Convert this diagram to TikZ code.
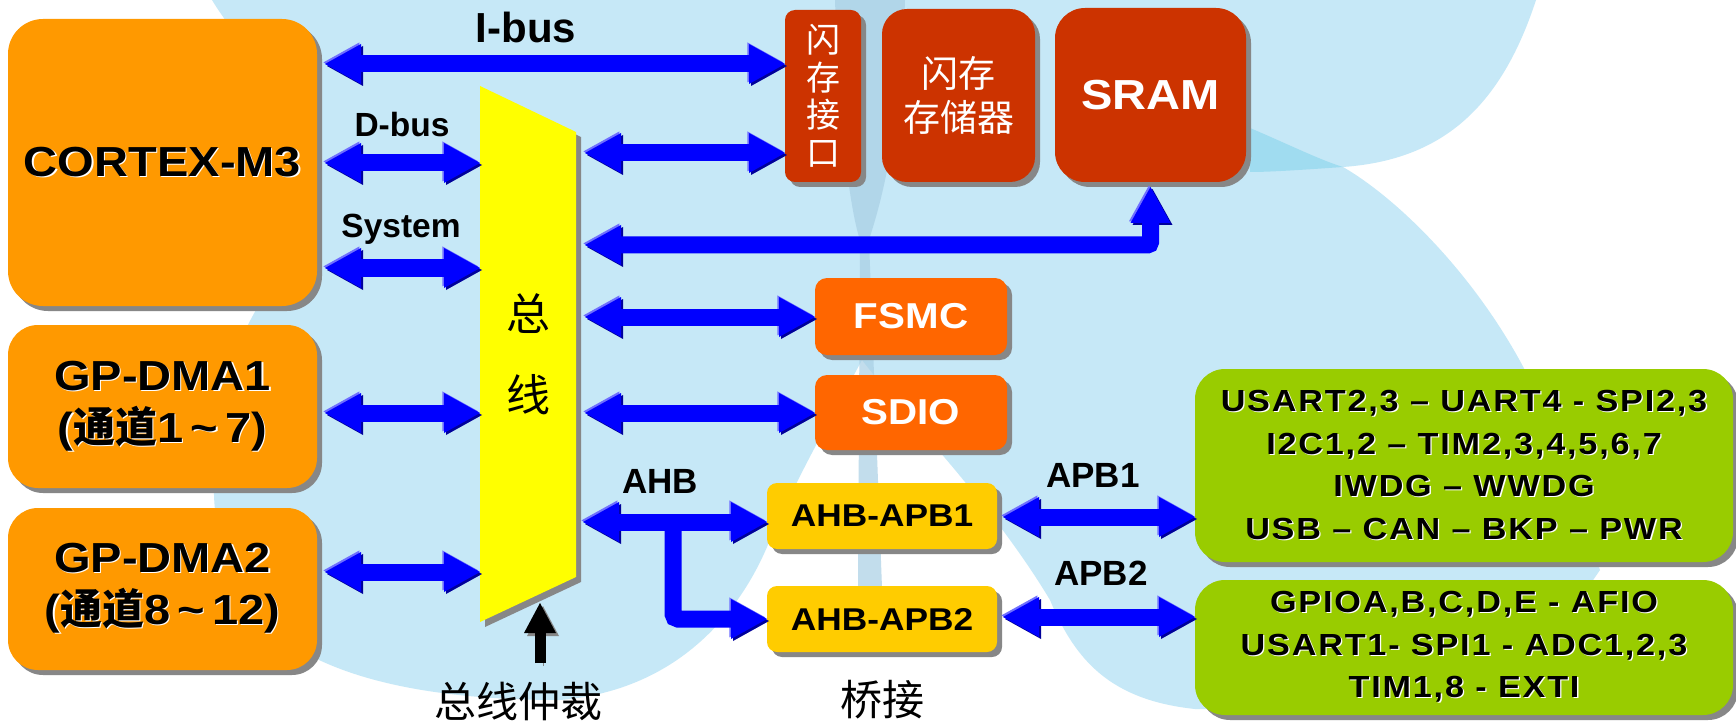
\documentclass[tikz,border=0pt]{standalone}
\usepackage{fontspec}
\setmainfont{Liberation Sans}
\newfontfamily\bx[FakeStretch=1.12]{Liberation Sans}
\newfontfamily\gx[FakeStretch=1.12,LetterSpace=6]{Liberation Sans}
\newfontfamily\cjk{Noto Sans CJK SC}
\usetikzlibrary{arrows.meta,shadows}
\definecolor{bgblue}{HTML}{C6E8F7}
\definecolor{bgdark}{HTML}{A0DCF0}
\definecolor{stemc}{HTML}{A9CFE4}
\definecolor{orng}{HTML}{FF9900}
\definecolor{brick}{HTML}{CC3300}
\definecolor{fsmcc}{HTML}{FF6600}
\definecolor{gold}{HTML}{FFCC00}
\definecolor{lime}{HTML}{99CC00}
\definecolor{busy}{HTML}{FFFF00}
\definecolor{shgray}{HTML}{878787}
\definecolor{bblue}{HTML}{0000FF}
\definecolor{blight}{HTML}{6F6FFF}
\definecolor{bdark}{HTML}{00009A}
\newcommand\fs[2]{\fontsize{#1}{#2}\selectfont}
\newcommand\shd[1]{\leavevmode\rlap{\kern1.3pt\raisebox{-1.3pt}{\color{white}#1}}#1}
\tikzset{
  blk/.style={rounded corners=#1, inner sep=0pt, outer sep=0pt, align=center,
    drop shadow={fill=shgray, opacity=1, shadow xshift=5pt, shadow yshift=-5pt}},
  bshape/.style={line width=17pt, draw=bblue, line join=miter,
    preaction={draw=bdark, transform canvas={shift={(2pt,-2pt)}}},
    preaction={draw=blight, transform canvas={shift={(-1.6pt,1.6pt)}}}},
  busarrow/.style={bshape, {Triangle[length=36pt,width=40pt,line width=0pt]}-{Triangle[length=36pt,width=40pt,line width=0pt]}},
  busone/.style={bshape, -{Triangle[length=36pt,width=40pt,line width=0pt]}},
  arbarrow/.style={line width=11pt, draw=black, -{Triangle[length=30pt,width=32pt,line width=0pt]},
    preaction={draw=shgray, transform canvas={shift={(3pt,-3pt)}}}},
  lbl/.style={anchor=base, inner sep=0pt, font=\bfseries\fs{#1}{40}},
  cjklbl/.style={inner sep=0pt, font=\cjk\fs{42}{48}}
}
\begin{document}
\begin{tikzpicture}[x=1pt,y=-1pt]
\useasboundingbox (0,0) rectangle (1736,727);
\fill[white] (0,0) rectangle (1736,727);
% background petals
\fill[bgblue] (212,0) -- (1536,0)
  .. controls (1500,110) and (1440,160) .. (1343,167)
  .. controls (1400,200) and (1480,280) .. (1530,380)
  -- (1600,570) -- (1500,715) -- (1195,709)
  .. controls (1110,700) and (1075,660) .. (1050,600)
  .. controls (990,500) and (900,410) .. (862,360)
  .. controls (835,410) and (790,490) .. (767,547)
  .. controls (740,610) and (680,690) .. (560,700)
  .. controls (450,700) and (360,685) .. (300,650)
  .. controls (250,620) and (216,560) .. (214,495)
  .. controls (212,420) and (230,350) .. (262,300)
  -- (300,150)
  .. controls (260,60) and (230,30) .. (212,0) -- cycle;
\fill[bgdark] (1250,128) .. controls (1290,145) and (1320,160) .. (1343,167)
  .. controls (1300,170) and (1270,172) .. (1250,172) -- cycle;
\fill[stemc, opacity=0.7] (835,0) -- (905,0) .. controls (900,150) and (875,220) .. (869,240)
  -- (882,588) -- (858,588) -- (860,240) .. controls (853,220) and (840,150) .. (835,0) -- cycle;
% bus trapezoid
\fill[shgray] (485,91) -- (581,137) -- (581,582) -- (485,627) -- cycle;
\fill[busy] (480,86) -- (576,132) -- (576,577) -- (480,622) -- cycle;
\node[inner sep=0pt, outer sep=0pt, minimum width=96pt, minimum height=536pt,
  align=center, font=\cjk\fs{44}{81}] (bus) at (528,354) {总\\线};
% boxes
\node[blk=35pt, fill=orng, minimum width=309pt, minimum height=287pt,
  font=\bx\bfseries\fs{42}{50}] (cortex) at (162.5,162.5) {\shd{CORTEX-M3}};
\node[blk=30pt, fill=orng, minimum width=309pt, minimum height=163pt,
  font=\bx\bfseries\fs{42}{52}] (dma1) at (162.5,406.5)
  {\shd{GP-DMA1}\\\shd{({\cjk 通道}1\,\textasciitilde\,7)}};
\node[blk=30pt, fill=orng, minimum width=309pt, minimum height=162pt,
  font=\bx\bfseries\fs{42}{52}] (dma2) at (162.5,589)
  {\shd{GP-DMA2}\\\shd{({\cjk 通道}8\,\textasciitilde\,12)}};
\node[blk=10pt, fill=brick, minimum width=76pt, minimum height=172pt, text=white,
  font=\cjk\fs{34}{37.5}] (flashif) at (823,96) {闪\\存\\接\\口};
\node[blk=25pt, fill=brick, minimum width=153pt, minimum height=173pt, text=white,
  font=\cjk\fs{37}{44}] (flash) at (958.5,95.5) {闪存\\存储器};
\node[blk=30pt, fill=brick, minimum width=191pt, minimum height=174pt, text=white,
  font=\bx\bfseries\fs{42}{50}] (sram) at (1150.5,95) {SRAM};
\node[blk=12pt, fill=fsmcc, minimum width=192pt, minimum height=77pt, text=white,
  font=\bx\bfseries\fs{36}{42}] (fsmc) at (911,316.5) {FSMC};
\node[blk=12pt, fill=fsmcc, minimum width=192pt, minimum height=75pt, text=white,
  font=\bx\bfseries\fs{36}{42}] (sdio) at (911,412.5) {SDIO};
\node[blk=10pt, fill=gold, minimum width=230pt, minimum height=66pt,
  font=\bx\bfseries\fs{31.5}{38}] (apb1) at (882,516) {AHB-APB1};
\node[blk=10pt, fill=gold, minimum width=230pt, minimum height=66pt,
  font=\bx\bfseries\fs{31.5}{38}] (apb2) at (882,619) {AHB-APB2};
\node[blk=30pt, fill=lime, minimum width=538pt, minimum height=193pt,
  font=\gx\bfseries\fs{30.5}{42.5}] (green1) at (1464,465.5)
  {\shd{USART2,3 – UART4 - SPI2,3}\\\shd{I2C1,2 – TIM2,3,4,5,6,7}\\\shd{IWDG – WWDG}\\\shd{USB – CAN – BKP – PWR}};
\node[blk=30pt, fill=lime, minimum width=538pt, minimum height=135pt,
  font=\gx\bfseries\fs{30.5}{42.5}] (green2) at (1464,647.5)
  {\shd{GPIOA,B,C,D,E - AFIO}\\\shd{USART1- SPI1 - ADC1,2,3}\\\shd{TIM1,8 - EXTI}};
% labels
\node[lbl=42] (libus) at (526,43) {I-bus};
\node[lbl=33.5] (ldbus) at (402,137) {D-bus};
\node[lbl=33.5] (lsys) at (401,237) {System};
\node[lbl=35] (lahb) at (660,493) {AHB};
\node[lbl=35] (lapb1) at (1093,487) {APB1};
\node[lbl=35] (lapb2) at (1101,585) {APB2};
\node[cjklbl] (larb) at (518,701) {总线仲裁};
\node[cjklbl] (lbridge) at (882,700) {桥接};
% arrow levels
\coordinate (yI) at (0,64);
\coordinate (yD) at (0,163);
\coordinate (yS) at (0,268);
\coordinate (yM1) at (0,413);
\coordinate (yM2) at (0,572);
\coordinate (yF) at (0,153);
\coordinate (ySR) at (0,245);
\coordinate (yFS) at (0,317);
\coordinate (yAHB) at (0,522);
\coordinate (yP1) at (0,517);
\coordinate (yP2) at (0,617);
\coordinate (ahbj) at (673,522);
\coordinate (arbbot) at (540,663);
\coordinate (arbtip) at (540,603);
% connectors
\draw[busarrow, shorten <=8pt] (cortex.east |- yI) -- (flashif.west |- yI);
\draw[busarrow, shorten <=8pt] (cortex.east |- yD) -- (bus.west |- yD);
\draw[busarrow, shorten <=8pt] (cortex.east |- yS) -- (bus.west |- yS);
\draw[busarrow, shorten <=8pt] (dma1.east |- yM1) -- (bus.west |- yM1);
\draw[busarrow, shorten <=8pt] (dma2.east |- yM2) -- (bus.west |- yM2);
\draw[busarrow, shorten <=9pt] (bus.east |- yF) -- (flashif.west |- yF);
\draw[busarrow, shorten <=9pt, shorten >=5pt, rounded corners=3pt] (bus.east |- ySR) -| (sram.south);
\draw[busarrow, shorten <=9pt] (bus.east |- yFS) -- (fsmc.west |- yFS);
\draw[busarrow, shorten <=9pt] (bus.east |- yM1) -- (sdio.west |- yM1);
\draw[busone, rounded corners=5pt] (ahbj) |- (apb2.west);
\draw[busarrow, shorten <=7pt] (bus.east |- yAHB) -- (apb1.west |- yAHB);
\draw[busarrow, shorten <=6pt] (apb1.east |- yP1) -- (green1.west |- yP1);
\draw[busarrow, shorten <=6pt] (apb2.east |- yP2) -- (green2.west |- yP2);
\draw[arbarrow] (arbbot) -- (arbtip);
\end{tikzpicture}
\end{document}
